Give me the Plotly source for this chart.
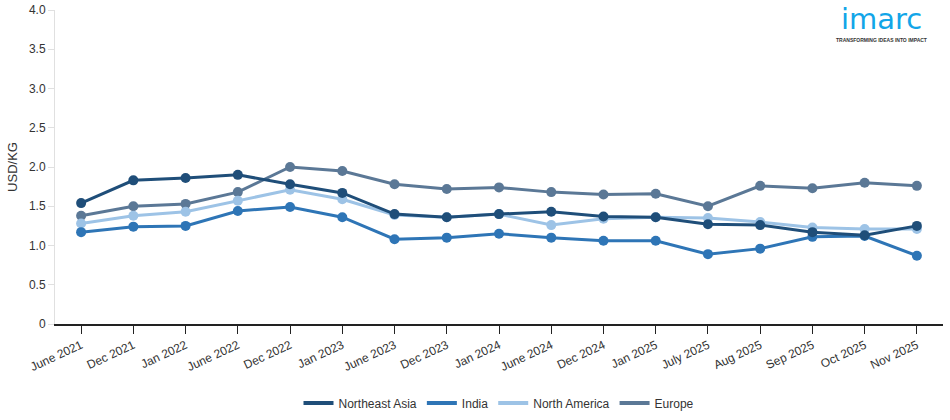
import plotly.graph_objects as go

categories = ["June 2021", "Dec 2021", "Jan 2022", "June 2022", "Dec 2022", "Jan 2023",
              "June 2023", "Dec 2023", "Jan 2024", "June 2024", "Dec 2024", "Jan 2025",
              "July 2025", "Aug 2025", "Sep 2025", "Oct 2025", "Nov 2025"]

northeast_asia = [1.54, 1.83, 1.86, 1.90, 1.78, 1.67, 1.40, 1.36, 1.40, 1.43, 1.37, 1.36,
                  1.27, 1.26, 1.17, 1.13, 1.25]
india = [1.17, 1.24, 1.25, 1.44, 1.49, 1.36, 1.08, 1.10, 1.15, 1.10, 1.06, 1.06,
         0.89, 0.96, 1.11, 1.12, 0.87]
north_america = [1.28, 1.38, 1.43, 1.57, 1.71, 1.59, 1.39, 1.36, 1.40, 1.26, 1.34, 1.36,
                 1.35, 1.30, 1.23, 1.21, 1.21]
europe = [1.38, 1.50, 1.53, 1.68, 2.00, 1.95, 1.78, 1.72, 1.74, 1.68, 1.65, 1.66,
          1.50, 1.76, 1.73, 1.80, 1.76]

y_ticks = [0, 0.5, 1.0, 1.5, 2.0, 2.5, 3.0, 3.5, 4.0]
y_tick_labels = ["0", "0.5", "1.0", "1.5", "2.0", "2.5", "3.0", "3.5", "4.0"]

series = [
    ("Europe", europe, "#5b7896", 4),
    ("North America", north_america, "#9dc3e6", 3),
    ("India", india, "#2e75b6", 2),
    ("Northeast Asia", northeast_asia, "#1f4e79", 1),
]

fig = go.Figure()
for name, vals, color, rank in series:
    fig.add_trace(go.Scatter(
        x=categories, y=vals, name=name, mode="lines+markers",
        line=dict(color=color, width=3),
        marker=dict(color=color, size=10),
        showlegend=False,
    ))
# legend entries (line only, as in the reference)
for name, vals, color, rank in series:
    fig.add_trace(go.Scatter(
        x=[None], y=[None], name=name, mode="lines",
        line=dict(color=color, width=4),
        legendrank=rank, showlegend=True,
    ))

font_family = "Liberation Sans, Arial, sans-serif"
fig.update_layout(
    width=950, height=420,
    margin=dict(l=55, r=7, t=10, b=96, autoexpand=False),
    plot_bgcolor="white", paper_bgcolor="white",
    font=dict(family=font_family, size=12, color="#333333"),
    showlegend=True,
    legend=dict(orientation="h", x=0.5, xanchor="center",
                yref="container", y=17 / 420, yanchor="middle",
                font=dict(size=12, color="#333333"), traceorder="normal",
                itemwidth=30),
    xaxis=dict(
        type="category", range=[-0.5, 16.5], automargin=False,
        showgrid=False, showline=True, linecolor="#222222", linewidth=1.5,
        ticks="outside", ticklen=8, tickcolor="#222222",
        tickangle=-25, tickfont=dict(size=12, color="#333333"),
    ),
    yaxis=dict(
        range=[0, 4.0], tickvals=y_ticks, ticktext=y_tick_labels, automargin=False,
        showgrid=False, zeroline=False, showline=True, linecolor="#e0e0e0", linewidth=1,
        ticks="outside", ticklen=6, tickcolor="#e0e0e0",
        tickfont=dict(size=12, color="#333333"),
        title=dict(text="USD/KG", font=dict(size=13, color="#333333"), standoff=8),
    ),
)

fig.add_annotation(x=(881 - 55) / 888, y=1.0 + 10 / 314, xref="paper", yref="paper",
                   xanchor="center", yanchor="top",
                   text="imarc", showarrow=False,
                   font=dict(family="DejaVu Sans, sans-serif", size=29,
                             color="#12a5e8"))
fig.add_annotation(x=(881 - 55) / 888, y=1.0 - 25 / 314, xref="paper", yref="paper",
                   xanchor="center", yanchor="top",
                   text="<b>TRANSFORMING IDEAS INTO IMPACT</b>", showarrow=False,
                   font=dict(family=font_family, size=5, color="#333333"))

fig.write_html("out.html", config={"displayModeBar": False},
               post_script="document.body.style.margin='0';document.body.style.overflow='hidden';")
